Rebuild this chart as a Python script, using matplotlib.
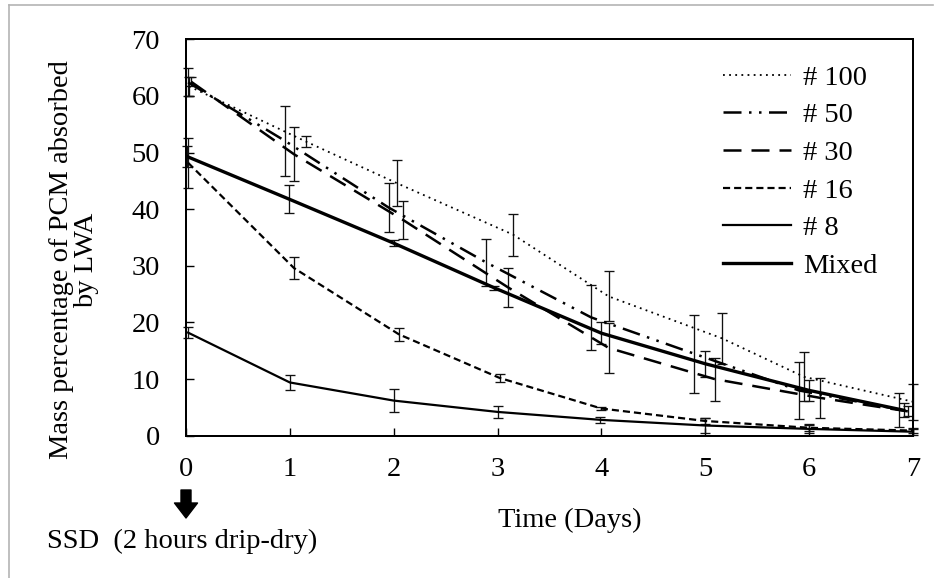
import matplotlib as mpl
mpl.use('Agg')
import matplotlib.pyplot as plt
from matplotlib.lines import Line2D

## values
labels = ['# 100', '# 50', '# 30', '# 16', '# 8', 'Mixed']

x100 = [0.03, 1.16, 2.03, 3.15, 4.07, 5.16, 5.95, 7.00]
y100 = [61.7, 51.9, 44.6, 35.5, 24.6, 17.2, 10.4, 6.0]
e100 = [1.7, 1.0, 4.0, 3.7, 4.4, 4.5, 4.3, 3.2]

x50 = [0.02, 0.95, 1.95, 2.89, 3.90, 4.89, 5.90, 6.87]
y50 = [62.4, 52.1, 40.3, 30.6, 20.9, 14.5, 8.0, 4.6]
e50 = [2.5, 6.2, 4.3, 4.1, 5.8, 6.9, 5.1, 3.0]

x30 = [0.05, 1.04, 2.09, 3.10, 4.07, 5.09, 6.10, 6.95]
y30 = [62.5, 49.7, 38.1, 26.2, 15.5, 10.0, 6.7, 4.3]
e30 = [0.8, 4.8, 3.3, 3.4, 4.4, 3.8, 3.5, 0.9]

x16 = [0.02, 1.04, 2.05, 3.02, 4.00, 5.00, 6.00, 7.00]
y16 = [48.2, 29.6, 17.9, 10.2, 4.8, 2.6, 1.4, 0.9]
e16 = [4.4, 2.0, 1.2, 0.7, 0.3, 0.6, 0.5, 0.4]

x8 = [0.02, 1.00, 2.00, 3.00, 3.99, 5.00, 6.00, 7.00]
y8 = [18.2, 9.4, 6.2, 4.2, 2.8, 1.8, 1.2, 0.7]
e8 = [1.0, 1.4, 2.0, 1.0, 0.5, 1.3, 0.8, 0.5]

xmix = [0.01, 0.99, 2.00, 2.97, 4.00, 5.00, 6.00, 6.91]
ymix = [49.3, 41.8, 34.0, 26.1, 18.1, 12.7, 8.0, 4.5]
emix = [1.9, 2.4, 0.5, 0.4, 1.9, 2.3, 1.9, 1.2]

xticks = list(range(0, 8))
yticks = list(range(0, 80, 10))

plt.rcParams['font.family'] = ['Liberation Serif', 'DejaVu Serif']
fs = 20.5

def main():
    fig = plt.figure(figsize=(9.38, 5.78), dpi=100)
    ax = fig.add_axes([186/938, 1-435.7/578, 727/938, 396.4/578])

    series = [
        (x100, y100, e100, dict(lw=1.3, linestyle=(0, (1, 2.4)))),
        (x50, y50, e50, dict(lw=1.8, linestyle=(0, (7.2, 3, 1, 3, 1, 3)))),
        (x30, y30, e30, dict(lw=1.8, linestyle=(0, (7.2, 4)))),
        (x16, y16, e16, dict(lw=1.6, linestyle=(0, (3.2, 1.8)))),
        (x8, y8, e8, dict(lw=1.6, linestyle='-')),
        (xmix, ymix, emix, dict(lw=2.4, linestyle='-')),
    ]
    for (xs, ys, es, st), lab in zip(series, labels):
        ax.plot(xs, ys, color='black', label=lab, zorder=3, **st)
        eb = ax.errorbar(xs, ys, yerr=es, fmt='none', ecolor='#111111',
                         elinewidth=0.95, capsize=3.6, capthick=0.95, zorder=2)
        for art in eb.lines[1] + eb.lines[2]:
            art.set_clip_on(False)

    ax.set_xlim(0, 7)
    ax.set_ylim(0, 70)
    ax.set_xticks(xticks)
    ax.set_yticks(yticks)
    ax.tick_params(axis='both', direction='in', length=5.8, width=1.0,
                   labelsize=fs)
    ax.tick_params(axis='y', pad=18.7)
    ax.tick_params(axis='x', pad=15.5)
    for sp in ax.spines.values():
        sp.set_linewidth(1.44)

    ax.legend(loc='upper right', bbox_to_anchor=(0.986, 1.0),
              frameon=False, fontsize=fs, handlelength=2.4,
              handletextpad=0.42, labelspacing=0.41)

    fig.text(74/938, 1-260/578, 'Mass percentage of PCM absorbed\nby LWA',
             rotation=90, ha='center', va='center', multialignment='center',
             fontsize=fs, linespacing=1.0)
    fig.text(570/938, 1-527/578, 'Time (Days)', ha='center', va='baseline',
             fontsize=fs)
    fig.text(47/938, 1-548/578, 'SSD  (2 hours drip-dry)', ha='left',
             va='baseline', fontsize=fs)

    ax.annotate('', xy=(0, 1-518/578), xytext=(0, 1-490/578),
                xycoords=('data', 'figure fraction'),
                textcoords=('data', 'figure fraction'),
                arrowprops=dict(arrowstyle='simple,head_width=1.66,head_length=1.08,tail_width=0.72',
                                mutation_scale=10, color='black', shrinkA=0, shrinkB=0),
                annotation_clip=False)

    # thin grey frame on top and left edge of the picture
    fig.add_artist(Line2D([9/938, 933/938], [1-5/578, 1-5/578],
                          transform=fig.transFigure, color='#b4b4b4', lw=1.2))
    fig.add_artist(Line2D([9/938, 9/938], [0, 1-5/578],
                          transform=fig.transFigure, color='#b4b4b4', lw=1.2))

    plt.savefig('out.png', dpi=100)

if __name__ == "__main__":
    main()
